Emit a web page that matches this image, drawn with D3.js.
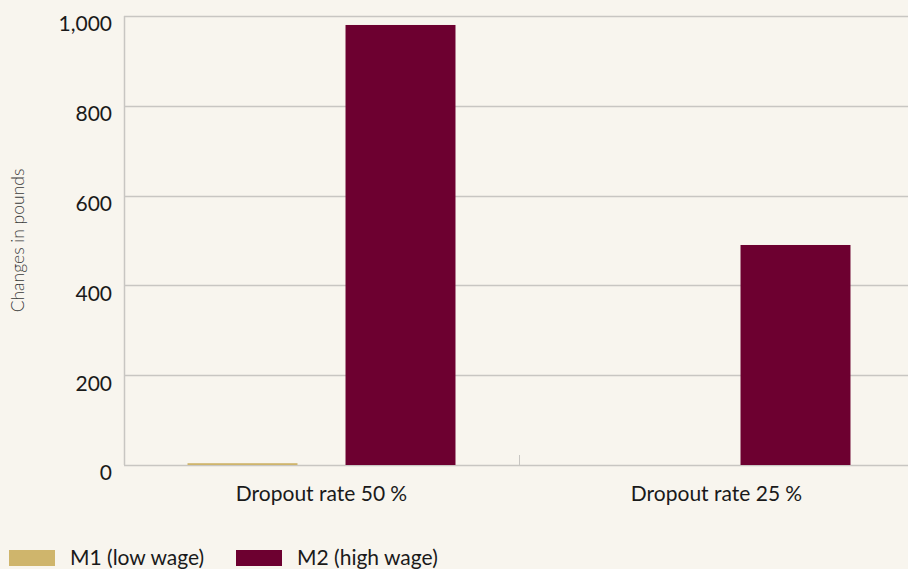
<!DOCTYPE html>
<html>
<head>
<meta charset="utf-8">
<script src="https://cdn.jsdelivr.net/npm/d3@7"></script>
<style>
  body { margin: 0; background: #f8f5ee; }
  svg { display: block; font-family: Lato, "Open Sans", sans-serif; }
</style>
</head>
<body>
<div id="chart"></div>
<script>
var categories = ["Dropout rate 50\u202F%", "Dropout rate 25\u202F%"];
var seriesNames = ["M1 (low wage)", "M2 (high wage)"];
var m1Values = [4, 0];
var m2Values = [980, 490];
var yTicks = [0, 200, 400, 600, 800, 1000];
var colors = ["#cfb56c", "#6d0030"];

var width = 908, height = 569;
var margin = {top: 16, left: 124, bottom: 104};
var plotRight = 914;

var svg = d3.select("#chart")
    .append("svg")
    .attr("width", width)
    .attr("height", height);

svg.append("rect")
    .attr("width", width)
    .attr("height", height)
    .attr("fill", "#f8f5ee");

var y = d3.scaleLinear()
    .domain([0, 1000])
    .range([height - margin.bottom, margin.top]);

var x0 = d3.scaleBand()
    .domain(categories)
    .range([margin.left, plotRight]);

var x1 = d3.scaleBand()
    .domain(seriesNames)
    .range([0, x0.bandwidth()])
    .paddingInner(0.304)
    .paddingOuter(0.402);

// gridlines
svg.append("g")
    .selectAll("line")
    .data(yTicks)
    .enter()
    .append("line")
    .attr("x1", margin.left)
    .attr("x2", plotRight)
    .attr("y1", function(d) { return Math.round(y(d)) + 0.5; })
    .attr("y2", function(d) { return Math.round(y(d)) + 0.5; })
    .attr("stroke", "#c8c6c2")
    .attr("stroke-width", 1.5);

// y axis line
svg.append("line")
    .attr("x1", margin.left + 0.5)
    .attr("x2", margin.left + 0.5)
    .attr("y1", y(1000))
    .attr("y2", y(0))
    .attr("stroke", "#c8c6c2")
    .attr("stroke-width", 1.5);

// y tick labels (sit a little below their gridline)
svg.append("g")
    .selectAll("text")
    .data(yTicks)
    .enter()
    .append("text")
    .attr("x", 112)
    .attr("y", function(d) { return y(d) + 8; })
    .attr("dy", "0.35em")
    .attr("text-anchor", "end")
    .attr("font-size", 21)
    .attr("fill", "#1a1a1a")
    .text(function(d) { return d3.format(",")(d); });

// category boundary tick
svg.append("g")
    .selectAll("line")
    .data(categories.slice(1))
    .enter()
    .append("line")
    .attr("x1", function(d) { return Math.round(x0(d)) + 0.5; })
    .attr("x2", function(d) { return Math.round(x0(d)) + 0.5; })
    .attr("y1", y(0) - 10)
    .attr("y2", y(0))
    .attr("stroke", "#c8c6c2")
    .attr("stroke-width", 1);

// bars
var rows = categories.map(function(c, i) {
    return {cat: c, values: [m1Values[i], m2Values[i]]};
});

var group = svg.selectAll(".grp")
    .data(rows)
    .enter()
    .append("g")
    .attr("class", "grp")
    .attr("transform", function(d) { return "translate(" + x0(d.cat) + ",0)"; });

group.selectAll("rect")
    .data(function(d) {
        return d.values.map(function(v, j) { return {name: seriesNames[j], v: v, j: j}; });
    })
    .enter()
    .append("rect")
    .attr("x", function(d) { return x1(d.name); })
    .attr("width", x1.bandwidth())
    .attr("y", function(d) { return y(d.v); })
    .attr("height", function(d) { return y(0) - y(d.v); })
    .attr("fill", function(d) { return colors[d.j]; });

// category labels
svg.append("g")
    .selectAll("text")
    .data(categories)
    .enter()
    .append("text")
    .attr("x", function(d) { return x0(d) + x0.bandwidth() / 2; })
    .attr("y", 501)
    .attr("text-anchor", "middle")
    .attr("font-size", 21)
    .attr("fill", "#1a1a1a")
    .text(function(d) { return d; });

// y axis title
svg.append("text")
    .attr("transform", "translate(24," + (y(500)) + ") rotate(-90)")
    .attr("text-anchor", "middle")
    .attr("font-size", 17.5)
    .attr("font-weight", 300)
    .attr("fill", "#3a3a3a")
    .text("Changes in pounds");

// legend
var legendX = [9, 236];
var legend = svg.selectAll(".legend")
    .data(seriesNames)
    .enter()
    .append("g")
    .attr("class", "legend")
    .attr("transform", function(d, i) { return "translate(" + legendX[i] + ",550)"; });

legend.append("rect")
    .attr("width", 46)
    .attr("height", 16)
    .attr("fill", function(d, i) { return colors[i]; });

legend.append("text")
    .attr("x", 61)
    .attr("y", 8)
    .attr("dy", "0.35em")
    .attr("font-size", 21)
    .attr("fill", "#1a1a1a")
    .text(function(d) { return d; });
</script>
</body>
</html>
